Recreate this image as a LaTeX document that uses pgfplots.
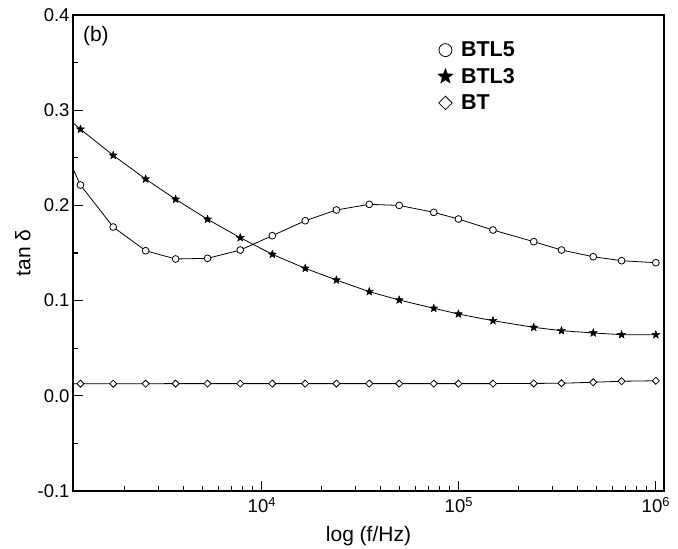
\documentclass[border=0pt]{standalone}
\usepackage{fontspec}
\setmainfont{Liberation Sans}
\usepackage{pgfplots}
\pgfplotsset{compat=1.18}
\usepackage{pgfplotstable}

% filled five-pointed star
\pgfdeclareplotmark{fstar}{%
  \pgfpathmoveto{\pgfpointpolar{90}{\pgfplotmarksize}}%
  \pgfpathlineto{\pgfpointpolar{126}{0.42\pgfplotmarksize}}%
  \pgfpathlineto{\pgfpointpolar{162}{\pgfplotmarksize}}%
  \pgfpathlineto{\pgfpointpolar{198}{0.42\pgfplotmarksize}}%
  \pgfpathlineto{\pgfpointpolar{234}{\pgfplotmarksize}}%
  \pgfpathlineto{\pgfpointpolar{270}{0.42\pgfplotmarksize}}%
  \pgfpathlineto{\pgfpointpolar{306}{\pgfplotmarksize}}%
  \pgfpathlineto{\pgfpointpolar{342}{0.42\pgfplotmarksize}}%
  \pgfpathlineto{\pgfpointpolar{18}{\pgfplotmarksize}}%
  \pgfpathlineto{\pgfpointpolar{54}{0.42\pgfplotmarksize}}%
  \pgfpathclose\pgfusepathqfillstroke}

\pgfplotstableread{
f        btl5    btl3    bt
1000     0.257   0.294   0.0127
1200     0.2214  0.2800  0.0127
1760     0.1773  0.2526  0.0127
2570     0.1524  0.2277  0.0127
3650     0.1437  0.2064  0.0128
5300     0.1444  0.1854  0.0128
7770     0.1531  0.1661  0.0128
11300    0.1682  0.1486  0.0128
16600    0.1839  0.1339  0.0128
23900    0.1952  0.1216  0.0128
35100    0.2011  0.1094  0.0128
49800    0.2000  0.1006  0.0128
74600    0.1927  0.0919  0.0128
99500    0.1857  0.0859  0.0128
149000   0.1741  0.0789  0.0128
240000   0.1619  0.0719  0.0130
332000   0.1531  0.0684  0.0132
481000   0.1461  0.0660  0.0142
670000   0.1419  0.0642  0.0153
1000000  0.1398  0.0642  0.0158
}\tandata

\begin{document}
\begin{tikzpicture}
\begin{axis}[
  scale only axis, width=591pt, height=476pt,
  xmode=log, xmin=1100, xmax=1.1e6, ymin=-0.1, ymax=0.4,
  axis line style={line width=1.2pt},
  tick align=inside, tick pos=left,
  major tick length=10pt, minor tick length=5pt,
  tick style={line width=1.1pt, black},
  xtick={1e4,1e5,1e6},
  xticklabels={10\textsuperscript{4},10\textsuperscript{5},10\textsuperscript{6}},
  minor xtick={2000,3000,4000,5000,6000,7000,8000,9000,
    20000,30000,40000,50000,60000,70000,80000,90000,
    200000,300000,400000,500000,600000,700000,800000,900000},
  ytick={-0.1,0,0.1,0.2,0.3,0.4}, minor y tick num=1,
  yticklabel style={/pgf/number format/.cd, fixed, fixed zerofill, precision=1, assume math mode=true},
  xticklabel style={yshift=-3pt},
  tick label style={font=\fontsize{18.5}{21}\selectfont},
  label style={font=\fontsize{21}{24}\selectfont},
  xlabel={log (f/Hz)}, ylabel={tan δ},
  xlabel style={at={(axis description cs:0.5,0)}, anchor=center, yshift=-45pt},
  ylabel style={at={(axis description cs:-0.085,0.5)}, anchor=center},
  legend style={at={(axis description cs:0.617,0.948)}, anchor=north west,
    draw=none, fill=none, font=\fontsize{21.5}{25}\selectfont\bfseries,
    row sep=6pt, column sep=6pt, inner sep=0pt},
  legend cell align=left,
  legend image code/.code={\draw[#1, every mark/.append style={scale=1.9}] plot[only marks] coordinates {(0pt,0pt)};},
]
\addplot[black, line width=0.8pt, mark=*, mark size=3.4pt, mark options={fill=white, line width=0.8pt}]
  table[x=f, y=btl5] {\tandata};
\addlegendentry{BTL5}
\addplot[black, line width=0.8pt, mark=fstar, mark size=4.2pt, mark options={fill=black, line width=0.4pt}]
  table[x=f, y=btl3] {\tandata};
\addlegendentry{BTL3}
\addplot[black, line width=0.8pt, mark=square*, mark size=2.5pt, mark options={fill=white, rotate=45, line width=0.8pt}]
  table[x=f, y=bt] {\tandata};
\addlegendentry{BT}
\node[anchor=west, font=\fontsize{21}{24}\selectfont] at (axis description cs:0.011,0.956) {(b)};
\coordinate (sw) at (rel axis cs:0,0);
\coordinate (ne) at (rel axis cs:1,1);
\end{axis}
\pgfresetboundingbox
\path[use as bounding box] ([xshift=-73pt,yshift=-58pt]sw) rectangle ([xshift=14pt,yshift=15pt]ne);
\end{tikzpicture}
\end{document}
